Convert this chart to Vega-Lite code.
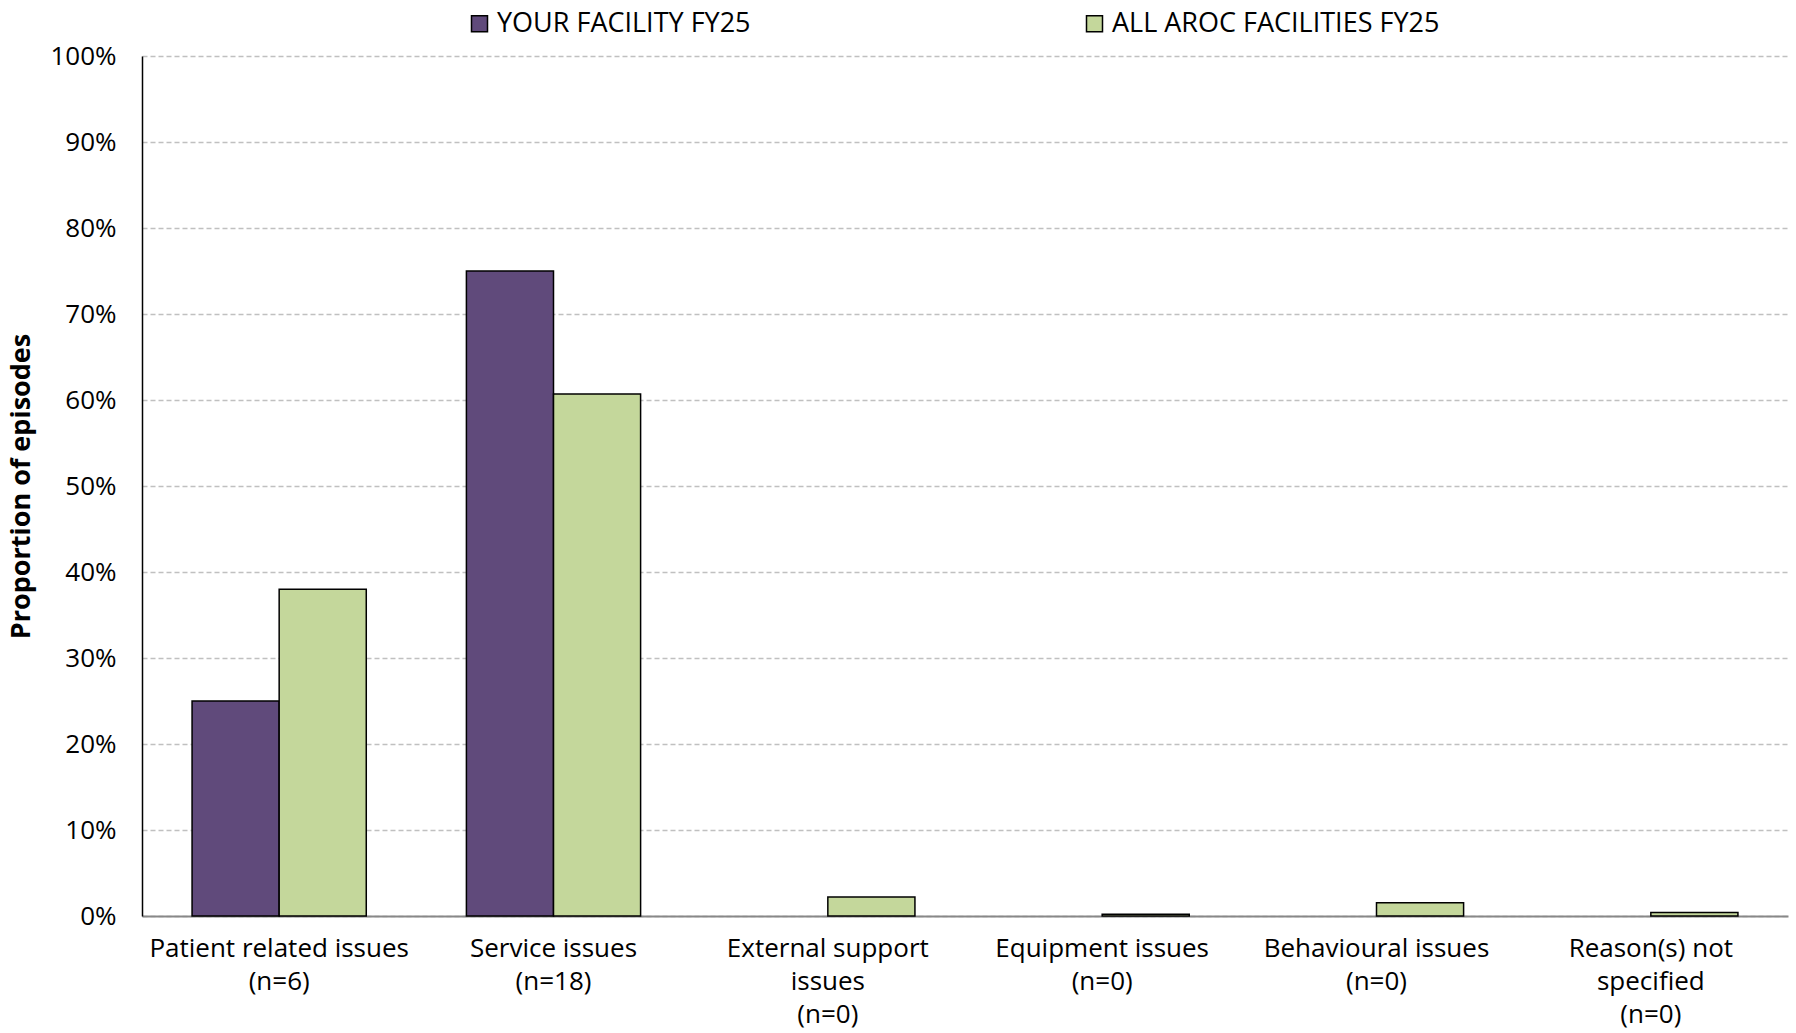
{
  "$schema": "https://vega.github.io/schema/vega-lite/v6.json",
  "autosize": {"type": "none"},
  "width": 1646,
  "height": 860,
  "padding": {"left": 142, "top": 56, "right": 8, "bottom": 117},
  "background": "white",
  "config": {
    "font": "Open Sans",
    "view": {"stroke": null},
    "axis": {"labelFont": "Open Sans", "titleFont": "Open Sans"},
    "legend": {"labelFont": "Open Sans"}
  },
  "data": {
    "values": [
      {"category": "Patient related issues|(n=6)", "series": "YOUR FACILITY FY25", "value": 0.25},
      {"category": "Patient related issues|(n=6)", "series": "ALL AROC FACILITIES FY25", "value": 0.38},
      {"category": "Service issues|(n=18)", "series": "YOUR FACILITY FY25", "value": 0.75},
      {"category": "Service issues|(n=18)", "series": "ALL AROC FACILITIES FY25", "value": 0.607},
      {"category": "External support|issues|(n=0)", "series": "YOUR FACILITY FY25", "value": 0},
      {"category": "External support|issues|(n=0)", "series": "ALL AROC FACILITIES FY25", "value": 0.022},
      {"category": "Equipment issues|(n=0)", "series": "YOUR FACILITY FY25", "value": 0},
      {"category": "Equipment issues|(n=0)", "series": "ALL AROC FACILITIES FY25", "value": 0.002},
      {"category": "Behavioural issues|(n=0)", "series": "YOUR FACILITY FY25", "value": 0},
      {"category": "Behavioural issues|(n=0)", "series": "ALL AROC FACILITIES FY25", "value": 0.0155},
      {"category": "Reason(s) not|specified|(n=0)", "series": "YOUR FACILITY FY25", "value": 0},
      {"category": "Reason(s) not|specified|(n=0)", "series": "ALL AROC FACILITIES FY25", "value": 0.004}
    ]
  },
  "mark": {"type": "bar", "stroke": "black", "strokeWidth": 1.5},
  "encoding": {
    "x": {
      "field": "category",
      "type": "nominal",
      "sort": null,
      "scale": {"paddingInner": 0.365, "paddingOuter": 0.1825},
      "axis": {
        "title": null,
        "labelAngle": 0,
        "labelExpr": "split(datum.label, '|')",
        "labelFontSize": 26,
        "labelColor": "#000000",
        "labelLineHeight": 33,
        "labelPadding": 19,
        "labelLimit": 400,
        "ticks": false,
        "domainColor": "#888888",
        "domainWidth": 2,
        "grid": false
      }
    },
    "xOffset": {
      "field": "series",
      "type": "nominal",
      "sort": ["YOUR FACILITY FY25", "ALL AROC FACILITIES FY25"],
      "scale": {"paddingInner": 0, "paddingOuter": 0}
    },
    "y": {
      "field": "value",
      "type": "quantitative",
      "scale": {"domain": [0, 1], "nice": false},
      "axis": {
        "title": "Proportion of episodes",
        "titleFontSize": 27,
        "titleFontWeight": "bold",
        "titleColor": "#000000",
        "titlePadding": 14,
        "format": ".0%",
        "values": [0, 0.1, 0.2, 0.3, 0.4, 0.5, 0.6, 0.7, 0.8, 0.9, 1.0],
        "labelFontSize": 26,
        "labelColor": "#000000",
        "labelPadding": 26,
        "ticks": false,
        "domainColor": "#000000",
        "domainWidth": 1.5,
        "grid": true,
        "gridColor": "#c0c0c0",
        "gridDash": [5, 3],
        "gridWidth": 1.3
      }
    },
    "strokeOpacity": {
      "condition": {"test": "datum.value == 0", "value": 0},
      "value": 1
    },
    "color": {
      "field": "series",
      "type": "nominal",
      "sort": ["YOUR FACILITY FY25", "ALL AROC FACILITIES FY25"],
      "scale": {"domain": ["YOUR FACILITY FY25", "ALL AROC FACILITIES FY25"], "range": ["#604A7B", "#C4D79B"]},
      "legend": {
        "title": null,
        "orient": "none",
        "legendX": 324,
        "legendY": -46,
        "direction": "horizontal",
        "symbolType": "square",
        "symbolSize": 256,
        "symbolStrokeColor": "black",
        "symbolStrokeWidth": 1.5,
        "labelFontSize": 27,
        "labelColor": "#000000",
        "labelOffset": 4,
        "columnPadding": 330,
        "labelLimit": 500
      }
    }
  }
}
